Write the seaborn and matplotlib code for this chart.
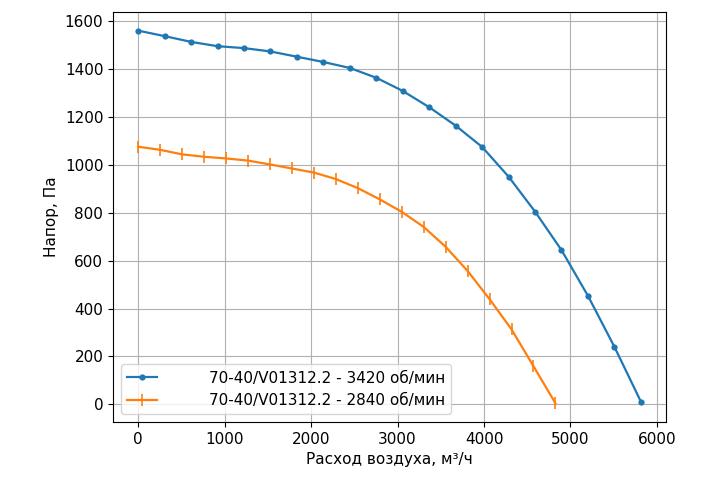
import matplotlib
matplotlib.use("Agg")
import matplotlib.pyplot as plt
import seaborn as sns
import pandas as pd
import numpy as np

# Data
flow_3420 = [0, 306, 612, 918, 1224, 1530, 1836, 2142, 2448, 2754, 3060, 3366, 3672, 3978, 4284, 4590, 4896, 5202, 5508, 5814]
press_3420 = [1561, 1538, 1514, 1496, 1488, 1474, 1452, 1430, 1405, 1364, 1309, 1241, 1164, 1075, 951, 805, 644, 453, 240, 11]
flow_2840 = [0, 254, 508, 762, 1016, 1270, 1524, 1778, 2032, 2286, 2540, 2794, 3048, 3302, 3556, 3810, 4064, 4318, 4572, 4826]
press_2840 = [1076, 1063, 1044, 1034, 1027, 1018, 1002, 985, 968, 941, 903, 856, 804, 741, 658, 557, 439, 313, 159, 4]
label_3420 = "        70-40/V01312.2 - 3420 об/мин"
label_2840 = "        70-40/V01312.2 - 2840 об/мин"
xlabel = "Расход воздуха, м³/ч"
ylabel = "Напор, Па"

plt.rcParams['font.family'] = ['DejaVu Sans']
plt.rcParams['font.size'] = 11
fig = plt.figure(figsize=(7.2, 4.8), dpi=100)
ax = fig.add_axes([0.157, 0.121, 0.768, 0.854])

df1 = pd.DataFrame({"x": flow_3420, "y": press_3420})
df2 = pd.DataFrame({"x": flow_2840, "y": press_2840})
sns.lineplot(data=df1, x="x", y="y", ax=ax, color="#1f77b4", marker="o",
             markersize=4.5, markeredgewidth=0, linewidth=1.6, label=label_3420)
sns.lineplot(data=df2, x="x", y="y", ax=ax, color="#ff7f0e", marker="|",
             markersize=8, markeredgewidth=1.2, markeredgecolor="#ff7f0e",
             linewidth=1.6, label=label_2840)

ax.grid(True, color="#b0b0b0", linewidth=0.8)
ax.set_axisbelow(True)
ax.set_xlabel(xlabel)
ax.set_ylabel(ylabel)
ax.set_xticks([0, 1000, 2000, 3000, 4000, 5000, 6000])
ax.set_yticks([0, 200, 400, 600, 800, 1000, 1200, 1400, 1600])
ax.legend(loc="lower left")

fig.savefig("out.png", dpi=100)
